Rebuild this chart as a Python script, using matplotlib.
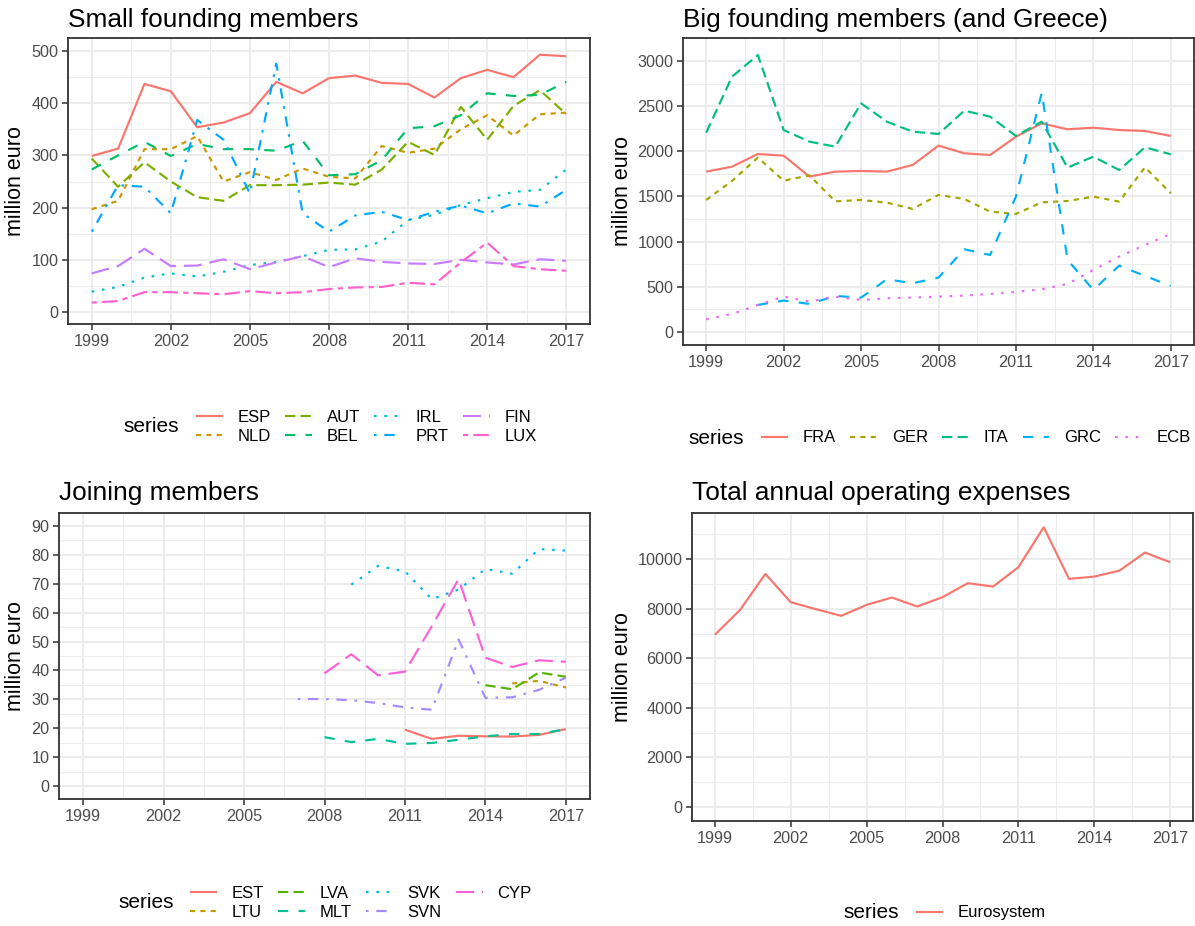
import numpy as np
import matplotlib
matplotlib.use("Agg")
import matplotlib.pyplot as plt
from matplotlib.ticker import FixedLocator
from matplotlib.lines import Line2D

plt.rcParams['font.family'] = ['Liberation Sans', 'DejaVu Sans']

N = None
years = list(range(1999, 2018))

# ---- Small founding members ----
small_names = ["ESP", "NLD", "AUT", "BEL", "IRL", "PRT", "FIN", "LUX"]
ESP = [299, 313, 437, 423, 354, 363, 381, 441, 419, 448, 453, 439, 437, 411, 448, 464, 450, 493, 490]
NLD = [197, 213, 312, 312, 337, 250, 268, 253, 275, 259, 256, 318, 305, 313, 350, 377, 338, 379, 382]
AUT = [294, 240, 287, 250, 220, 213, 243, 243, 244, 248, 244, 273, 326, 301, 393, 330, 395, 425, 379]
BEL = [273, 300, 326, 299, 322, 312, 312, 309, 328, 262, 264, 291, 352, 356, 377, 419, 414, 416, 441]
IRL = [39, 48, 66, 74, 68, 77, 90, 96, 107, 119, 120, 135, 176, 186, 205, 218, 230, 234, 273]
PRT = [154, 243, 240, 189, 368, 330, 227, 476, 189, 154, 185, 192, 176, 192, 204, 189, 208, 202, 234]
FIN = [74, 88, 121, 88, 89, 101, 82, 95, 107, 86, 103, 96, 93, 92, 100, 95, 91, 101, 98]
LUX = [18, 21, 38, 38, 36, 34, 40, 36, 38, 44, 47, 48, 56, 53, 95, 133, 88, 82, 79]
small_values = [ESP, NLD, AUT, BEL, IRL, PRT, FIN, LUX]

# ---- Big founding members (and Greece) ----
big_names = ["FRA", "GER", "ITA", "GRC", "ECB"]
FRA = [1775, 1830, 1970, 1952, 1720, 1775, 1782, 1775, 1849, 2063, 1978, 1959, 2162, 2310, 2244, 2262, 2236, 2225, 2170]
GER = [1461, 1672, 1930, 1675, 1734, 1446, 1461, 1432, 1362, 1517, 1472, 1332, 1306, 1435, 1450, 1498, 1443, 1823, 1535]
ITA = [2207, 2827, 3066, 2236, 2107, 2052, 2531, 2328, 2218, 2192, 2450, 2384, 2170, 2328, 1819, 1941, 1793, 2044, 1967]
GRC = [N, N, 299, 347, 310, 398, 380, 583, 539, 601, 915, 852, 1498, 2649, 797, 465, 734, 620, 509]
ECB = [140, 199, 299, 391, 336, 391, 354, 373, 380, 391, 402, 421, 443, 472, 531, 686, 834, 963, 1085]
big_values = [FRA, GER, ITA, GRC, ECB]

# ---- Joining members ----
join_names = ["EST", "LTU", "LVA", "MLT", "SVK", "SVN", "CYP"]
EST = [N]*12 + [19.5, 16.3, 17.4, 17.2, 17.1, 17.7, 19.7]
LTU = [N]*16 + [35.5, 36.4, 34.1]
LVA = [N]*15 + [34.9, 33.5, 39.3, 37.8]
MLT = [N]*9 + [16.9, 15.2, 16.3, 14.6, 14.9, 16.0, 17.2, 18.0, 18.0, 19.7]
SVK = [N]*10 + [69.7, 76.2, 74.3, 64.7, 68.0, 75.1, 73.5, 82.0, 81.5]
SVN = [N]*8 + [30.1, 30.1, 29.7, 28.7, 27.2, 26.4, 50.7, 30.5, 30.7, 33.3, 37.5]
CYP = [N]*9 + [39.0, 45.6, 38.3, 39.6, 55.3, 71.6, 44.4, 41.2, 43.5, 43.0]
join_values = [EST, LTU, LVA, MLT, SVK, SVN, CYP]

# ---- Total ----
total_names = ["Eurosystem"]
Eurosystem = [6948, 7956, 9408, 8266, 7983, 7715, 8158, 8454, 8091, 8467, 9032, 8897, 9677, 11290, 9206, 9300, 9542, 10268, 9878]
total_values = [Eurosystem]

x_breaks = [1999, 2002, 2005, 2008, 2011, 2014, 2017]

# ggplot default hue palettes & linetypes
pal8 = ["#F8766D", "#CD9600", "#7CAE00", "#00BE67", "#00BFC4", "#00A9FF", "#C77CFF", "#FF61CC"]
pal5 = ["#F8766D", "#A3A500", "#00BF7D", "#00B0F6", "#E76BF3"]
pal7 = ["#F8766D", "#C49A00", "#53B400", "#00C094", "#00B6EB", "#A58AFF", "#FB61D7"]
pal1 = ["#F8766D"]
k = 1.2
ltys = ["-", (0, (2*k, 2*k)), (0, (4*k, 2*k)), (0, (4*k, 4*k)), (0, (1*k, 3*k)),
        (0, (1*k, 3*k, 4*k, 3*k)), (0, (7*k, 3*k)), (0, (2*k, 2*k, 6*k, 2*k))]

W, H = 1195, 926
fig = plt.figure(figsize=(W/100, H/100), dpi=100)
fig.patch.set_facecolor("white")

LW = 1.55
TICK_COL = "#4D4D4D"
BORDER = "#333333"
GRID = "#EBEBEB"


def px_axes(l, t, r, b):
    return fig.add_axes([l/W, 1 - b/H, (r - l)/W, (b - t)/H])


def style(ax, ylim, ybreaks, yminor):
    ax.set_xlim(1998.1, 2017.9)
    ax.set_ylim(*ylim)
    ax.set_xticks(x_breaks)
    ax.set_xticklabels([str(v) for v in x_breaks])
    ax.set_yticks(ybreaks)
    ax.set_yticklabels([str(v) for v in ybreaks])
    ax.xaxis.set_minor_locator(FixedLocator([b + 1.5 for b in x_breaks[:-1]]))
    ax.yaxis.set_minor_locator(FixedLocator(yminor))
    ax.grid(True, which="major", color=GRID, lw=1.3, zorder=0)
    ax.grid(True, which="minor", color=GRID, lw=0.65, zorder=0)
    ax.set_axisbelow(True)
    ax.tick_params(which="major", length=4, width=1.1, color=BORDER,
                   labelcolor=TICK_COL, labelsize=11.7, pad=3)
    ax.tick_params(which="minor", length=0)
    for s in ax.spines.values():
        s.set_color(BORDER)
        s.set_linewidth(1.3)


def draw(ax, names, values, pal):
    for i, (nm, vals) in enumerate(zip(names, values)):
        v = np.array([np.nan if a is None else a for a in vals], dtype=float)
        ax.plot(years, v, color=pal[i], lw=LW, linestyle=ltys[i], label=nm,
                solid_capstyle="butt", dash_capstyle="butt")


def title(ax_left_px, baseline_px, text):
    fig.text(ax_left_px/W, 1 - baseline_px/H, text, fontsize=18.9,
             ha="left", va="baseline", color="black")


def ylab(xpx, ycpx):
    fig.text(xpx/W, 1 - ycpx/H, "million euro", fontsize=15.5, rotation=90,
             ha="center", va="center", color="black")


def legend(names, pal, ncol, series_x, handle_x, ycen):
    handles = [Line2D([0], [0], color=pal[i], lw=LW, linestyle=ltys[i],
                      dash_capstyle="butt", solid_capstyle="butt")
               for i in range(len(names))]
    fig.text(series_x/W, 1 - ycen/H, "series", fontsize=15, ha="left", va="center")
    fig.legend(handles, names, loc="center left", bbox_to_anchor=(handle_x/W, 1 - ycen/H),
               ncol=ncol, frameon=False, fontsize=12, handlelength=1.6,
               handletextpad=0.9, columnspacing=0.85, labelspacing=0.22,
               borderpad=0, borderaxespad=0)


# Top-left
ax1 = px_axes(68, 38, 590, 324)
draw(ax1, small_names, small_values, pal8)
style(ax1, (-23, 525), [0, 100, 200, 300, 400, 500], [50, 150, 250, 350, 450])
title(68, 27, "Small founding members")
ylab(16, 181)
legend(small_names, pal8, 4, 123, 196, 427)

# Top-right
ax2 = px_axes(683, 38, 1194, 345)
draw(ax2, big_names, big_values, pal5)
style(ax2, (-145, 3255), [0, 500, 1000, 1500, 2000, 2500, 3000],
      [250, 750, 1250, 1750, 2250, 2750, 3250])
title(683, 27, "Big founding members (and Greece)")
ylab(622, 191)
legend(big_names, pal5, 5, 688, 761, 438)

# Bottom-left
ax3 = px_axes(59, 513, 590, 799)
draw(ax3, join_names, join_values, pal7)
style(ax3, (-4.5, 94.5), list(range(0, 100, 10)), [5, 15, 25, 35, 45, 55, 65, 75, 85])
title(59, 500, "Joining members")
ylab(16, 656)
legend(join_names, pal7, 4, 118, 190, 903)

# Bottom-right
ax4 = px_axes(692, 513, 1193, 821)
draw(ax4, total_names, total_values, pal1)
style(ax4, (-565, 11865), [0, 2000, 4000, 6000, 8000, 10000],
      [1000, 3000, 5000, 7000, 9000, 11000])
title(692, 500, "Total annual operating expenses")
ylab(622, 667)
legend(total_names, pal1, 1, 843, 916, 913)

fig.savefig("out.png", dpi=100, facecolor="white")
